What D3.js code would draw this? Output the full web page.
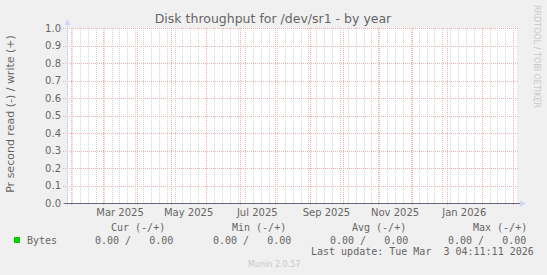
<!DOCTYPE html>
<html>
<head>
<meta charset="utf-8">
<script src="https://cdn.jsdelivr.net/npm/d3@7"></script>
<style>
  html, body { margin: 0; padding: 0; background: #f0f0f0; }
  svg { display: block; }
  text { font-family: "DejaVu Sans", sans-serif; fill: #666; }
  .mono { font-family: "DejaVu Sans Mono", monospace; font-size: 10px; white-space: pre; }
</style>
</head>
<body>
<div id="container"></div>
<script>
var w = 547,
    h = 275;

// time window of the yearly graph (400 days)
var startTime = new Date(2025, 0, 28, 9, 0);
var endTime = new Date(2026, 2, 4, 9, 0);

// sampled values (all zero on this device)
var sampleDates = ['2025-02-01', '2025-03-01', '2025-04-01', '2025-05-01', '2025-06-01',
    '2025-07-01', '2025-08-01', '2025-09-01', '2025-10-01', '2025-11-01', '2025-12-01',
    '2026-01-01', '2026-02-01', '2026-03-01'];
var readValues = [0, 0, 0, 0, 0, 0, 0, 0, 0, 0, 0, 0, 0, 0];
var writeValues = [0, 0, 0, 0, 0, 0, 0, 0, 0, 0, 0, 0, 0, 0];

var yTicks = [0, 0.1, 0.2, 0.3, 0.4, 0.5, 0.6, 0.7, 0.8, 0.9, 1.0];
var xLabels = ['2025-03-01', '2025-05-01', '2025-07-01', '2025-09-01', '2025-11-01', '2026-01-01'];
var legendHeaders = ['Cur (-/+)', 'Min (-/+)', 'Avg (-/+)', 'Max (-/+)'];
var legendValues = ['0.00 /   0.00', '0.00 /   0.00', '0.00 /   0.00', '0.00 /   0.00'];

var plotLeft = 67, plotRight = 517, plotTop = 28, plotBottom = 203;

var svg = d3.select('#container')
    .append('svg')
    .attr('width', w)
    .attr('height', h);

svg.append('rect').attr('width', w).attr('height', h).attr('fill', '#f0f0f0');

var x = d3.scaleTime().domain([startTime, endTime]).range([plotLeft, plotRight]);
var y = d3.scaleLinear().domain([0, 1]).range([plotBottom, plotTop]);
var parse = d3.timeParse('%Y-%m-%d');
var px = function(v) { return Math.round(v) + 0.5; };

svg.append('rect')
    .attr('x', plotLeft).attr('y', plotTop)
    .attr('width', plotRight - plotLeft).attr('height', plotBottom - plotTop)
    .attr('fill', '#ffffff');

// minor grid: weeks
svg.selectAll('.minor')
    .data(d3.timeSunday.range(startTime, endTime))
    .enter().append('line')
    .attr('class', 'minor')
    .attr('x1', function(d) { return px(x(d)); })
    .attr('x2', function(d) { return px(x(d)); })
    .attr('y1', plotTop)
    .attr('y2', plotBottom)
    .attr('stroke', '#d4d4d4')
    .attr('stroke-dasharray', '1,1');

// major grid: months
svg.selectAll('.major')
    .data(d3.timeMonth.range(startTime, endTime))
    .enter().append('line')
    .attr('class', 'major')
    .attr('x1', function(d) { return px(x(d)); })
    .attr('x2', function(d) { return px(x(d)); })
    .attr('y1', plotTop)
    .attr('y2', plotBottom + 3)
    .attr('stroke', '#f0b0b0')
    .attr('stroke-dasharray', '1,1');

svg.selectAll('.hgrid')
    .data(yTicks)
    .enter().append('line')
    .attr('class', 'hgrid')
    .attr('x1', plotLeft - 4)
    .attr('x2', plotRight + 2)
    .attr('y1', function(d) { return px(y(d)); })
    .attr('y2', function(d) { return px(y(d)); })
    .attr('stroke', '#f0b0b0')
    .attr('stroke-dasharray', '1,1');

// y tick labels
svg.selectAll('.ylab')
    .data(yTicks)
    .enter().append('text')
    .attr('x', 61)
    .attr('y', function(d) { return y(d) + 3.5; })
    .attr('text-anchor', 'end')
    .attr('font-size', 10)
    .text(function(d) { return d3.format('.1f')(d); });

// x labels every two months, centered in the month
svg.selectAll('.xlab')
    .data(xLabels.map(parse))
    .enter().append('text')
    .attr('x', function(d) { return (x(d) + x(d3.timeMonth.offset(d, 1))) / 2; })
    .attr('y', 216)
    .attr('text-anchor', 'middle')
    .attr('font-size', 10)
    .text(function(d) { return d3.timeFormat('%b %Y')(d); });

// data lines (read mirrored below zero, write above)
var line = d3.line()
    .x(function(d) { return x(d.date); })
    .y(function(d) { return px(y(d.value)); });
[readValues.map(function(v) { return -v; }), writeValues].forEach(function(vals) {
    var pts = sampleDates.map(function(s, i) { return { date: parse(s), value: vals[i] }; });
    svg.append('path')
        .datum(pts)
        .attr('d', line)
        .attr('fill', 'none')
        .attr('stroke', '#00cc00');
});

// axes
svg.append('line')
    .attr('x1', plotLeft + 0.5).attr('x2', plotLeft + 0.5)
    .attr('y1', plotBottom + 3).attr('y2', plotTop - 4)
    .attr('stroke', '#cfd6f8');
svg.append('path')
    .attr('d', 'M' + (plotLeft - 2.5) + ',' + (plotTop - 3) + 'L' + (plotLeft + 0.5) + ',' + (plotTop - 9) +
        'L' + (plotLeft + 3.5) + ',' + (plotTop - 3) + 'Z')
    .attr('fill', '#cfd6f8');
svg.append('line')
    .attr('x1', plotLeft - 3).attr('x2', plotRight + 3)
    .attr('y1', px(y(0))).attr('y2', px(y(0)))
    .attr('stroke', '#6a6a7a');
svg.append('path')
    .attr('d', 'M' + (plotRight + 3) + ',' + (plotBottom - 2.5) + 'L' + (plotRight + 9) + ',' + (plotBottom + 0.5) +
        'L' + (plotRight + 3) + ',' + (plotBottom + 3.5) + 'Z')
    .attr('fill', '#cfd6f8');

// title
svg.append('text')
    .attr('x', 273)
    .attr('y', 23)
    .attr('text-anchor', 'middle')
    .attr('font-size', 12.5)
    .text('Disk throughput for /dev/sr1 - by year');

// vertical label
svg.append('text')
    .attr('transform', 'translate(14,114) rotate(-90)')
    .attr('text-anchor', 'middle')
    .attr('font-size', 11)
    .text('Pr second read (-) / write (+)');

svg.append('text')
    .attr('transform', 'translate(534,5) rotate(90)')
    .attr('font-size', 8)
    .style('fill', '#c8c8c8')
    .text('RRDTOOL / TOBI OETIKER');

// legend
var colX = [111, 232, 352, 473];
var valX = [95, 213, 330, 448];
svg.selectAll('.lhead')
    .data(legendHeaders)
    .enter().append('text')
    .attr('class', 'mono')
    .attr('x', function(d, i) { return colX[i]; })
    .attr('y', 231)
    .text(function(d) { return d; });

svg.append('rect')
    .attr('x', 14).attr('y', 237)
    .attr('width', 6).attr('height', 6)
    .attr('fill', '#00cc00');
svg.append('text')
    .attr('class', 'mono')
    .attr('x', 27)
    .attr('y', 244)
    .text('Bytes');
svg.selectAll('.lval')
    .data(legendValues)
    .enter().append('text')
    .attr('class', 'mono')
    .attr('x', function(d, i) { return valX[i]; })
    .attr('y', 244)
    .text(function(d) { return d; });

svg.append('text')
    .attr('class', 'mono')
    .attr('x', 311)
    .attr('y', 255)
    .text('Last update: Tue Mar  3 04:11:11 2026');

svg.append('text')
    .attr('x', 248)
    .attr('y', 267)
    .attr('font-size', 8)
    .style('fill', '#c8c8c8')
    .text('Munin 2.0.57');
</script>
</body>
</html>
